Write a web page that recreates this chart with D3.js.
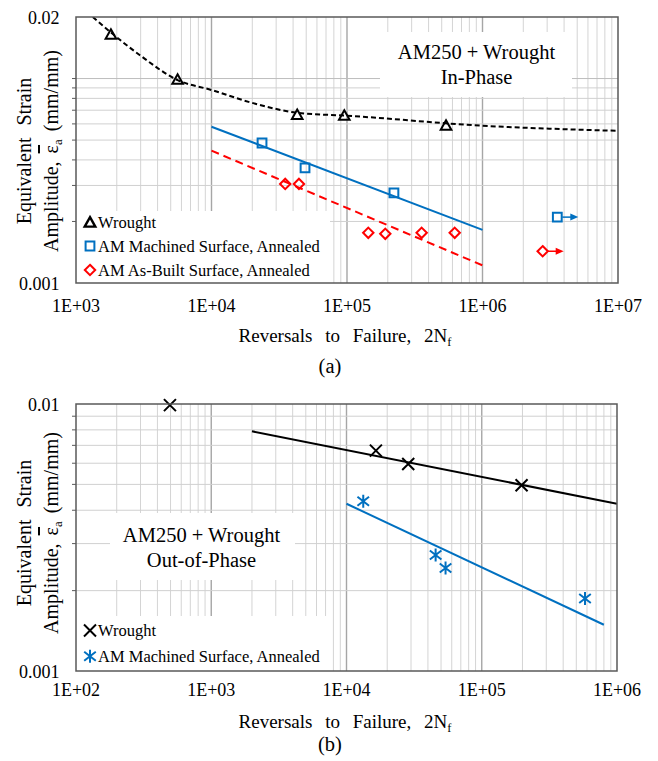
<!DOCTYPE html>
<html><head><meta charset="utf-8">
<script src="https://cdn.jsdelivr.net/npm/d3@7"></script>
<style>
body{margin:0;background:#fff}
svg{display:block}
</style>
</head><body><svg id="c" width="658" height="761"></svg>
<script>
// ---------- Panel (a): In-Phase ----------
const ipXTickLabels = ["1E+03","1E+04","1E+05","1E+06","1E+07"];
const ipXTickValues = [1e3,1e4,1e5,1e6,1e7];
const ipYTickLabels = ["0.001","0.02"];
const ipYTickValues = [0.001,0.02];
const ipWroughtN = [1810,5620,42900,95500,538000];
const ipWroughtE = [0.0165,0.00994,0.00668,0.00663,0.00592];
const ipWroughtFitN = [1330,1810,2965,5625,10000,20600,43000,100000,1000000,10000000];
const ipWroughtFitE = [0.0200,0.0168,0.0130,0.00983,0.00879,0.00756,0.0068,0.00658,0.00588,0.00555];
const ipMachinedN = [23600,49000,222000];
const ipMachinedE = [0.00484,0.00366,0.00276];
const ipMachinedRunoutN = [3565000];
const ipMachinedRunoutE = [0.0021];
const ipMachinedFitN = [1e4,1e6];
const ipMachinedFitE = [0.00581,0.00182];
const ipAsBuiltN = [35000,44200,143600,191700,355600,623700];
const ipAsBuiltE = [0.00305,0.00305,0.00176,0.00174,0.00176,0.00176];
const ipAsBuiltRunoutN = [2780000];
const ipAsBuiltRunoutE = [0.00143];
const ipAsBuiltFitN = [1e4,1e6];
const ipAsBuiltFitE = [0.00444,0.00122];
const ipLegend = ["Wrought","AM Machined Surface, Annealed","AM As-Built Surface, Annealed"];
const ipTitle = ["AM250 + Wrought","In-Phase"];

// ---------- Panel (b): Out-of-Phase ----------
const opXTickLabels = ["1E+02","1E+03","1E+04","1E+05","1E+06"];
const opXTickValues = [1e2,1e3,1e4,1e5,1e6];
const opYTickLabels = ["0.001","0.01"];
const opYTickValues = [0.001,0.01];
const opWroughtN = [495,16500,28600,197000];
const opWroughtE = [0.0099,0.00669,0.00596,0.00496];
const opWroughtFitN = [2000,1e6];
const opWroughtFitE = [0.0079,0.00423];
const opMachinedN = [13300,45600,54000,580000];
const opMachinedE = [0.00432,0.00272,0.00243,0.00187];
const opMachinedFitN = [1e4,8e5];
const opMachinedFitE = [0.00423,0.00149];
const opLegend = ["Wrought","AM Machined Surface, Annealed"];
const opTitle = ["AM250 + Wrought","Out-of-Phase"];

const BLUE = "#0070c0", RED = "#ff0000", BLACK = "#000";
const FONT = "Liberation Serif";
const svg = d3.select("#c");
const zip = (a,b) => a.map((v,i)=>[v,b[i]]);
const txt = (sel) => sel.append("text").attr("font-family",FONT).attr("fill","#000");

const markers = {
  tri: "M0,-4.8L5.3,4.6L-5.3,4.6Z",
  sq: "M-4.4,-4.4H4.4V4.4H-4.4Z",
  dia: "M0,-5.2L5.2,0L0,5.2L-5.2,0Z",
  x: "M-6,-6L6,6M6,-6L-6,6",
  ast: "M0,-6.5V6.5M-5.8,-4.5L5.8,4.5M5.8,-4.5L-5.8,4.5"
};

function minorValues(domain){
  const out=[];
  const lo=Math.floor(Math.log10(domain[0])), hi=Math.ceil(Math.log10(domain[1]));
  for(let d=lo; d<hi; d++){
    for(let k=1;k<=9;k++){
      const v=k*Math.pow(10,d);
      if(v>domain[0]*1.0001 && v<domain[1]*0.9999) out.push({v, major:k===1});
    }
  }
  return out;
}

function panel(cfg){
  const g = svg.append("g");
  const x = d3.scaleLog().domain(cfg.xDomain).range([cfg.x0,cfg.x1]);
  const y = d3.scaleLog().domain(cfg.yDomain).range([cfg.y1,cfg.y0]);
  const id = cfg.id;
  g.append("clipPath").attr("id","clip"+id).append("rect")
    .attr("x",cfg.x0).attr("y",cfg.y0).attr("width",cfg.x1-cfg.x0).attr("height",cfg.y1-cfg.y0);

  // grid
  const grid = g.append("g");
  minorValues(cfg.xDomain).forEach(t=>{
    grid.append("line").attr("x1",x(t.v)).attr("x2",x(t.v)).attr("y1",cfg.y0).attr("y2",cfg.y1)
      .attr("stroke", t.major? "#a6a6a6":"#d4d4d4").attr("stroke-width", t.major?1.4:1);
  });
  minorValues(cfg.yDomain).forEach(t=>{
    grid.append("line").attr("x1",cfg.x0).attr("x2",cfg.x1).attr("y1",y(t.v)).attr("y2",y(t.v))
      .attr("stroke", t.major? "#bdbdbd":"#d0d0d0").attr("stroke-width",1);
    g.append("line").attr("x1",cfg.x0-4).attr("x2",cfg.x0).attr("y1",y(t.v)).attr("y2",y(t.v))
      .attr("stroke","#595959").attr("stroke-width",1);
  });

  // title box
  const tb = cfg.titleBox;
  g.append("rect").attr("x",tb.x).attr("y",tb.y).attr("width",tb.w).attr("height",tb.h).attr("fill","#fff");
  cfg.title.forEach((t,i)=>{
    txt(g).attr("x",tb.cx).attr("y",tb.b0+i*25).attr("text-anchor","middle")
      .attr("font-size",20.5).text(t);
  });
  // legend box
  const lb = cfg.legendBox;
  g.append("rect").attr("x",cfg.x0).attr("y",lb.y).attr("width",lb.w).attr("height",cfg.y1-lb.y).attr("fill","#fff");

  const plot = g.append("g").attr("clip-path","url(#clip"+id+")");

  cfg.series.forEach(s=>{
    if(s.fit){
      const ln = d3.line().x(d=>x(d[0])).y(d=>y(d[1]));
      if(s.curve) ln.curve(d3.curveMonotoneX);
      plot.append("path").datum(s.fit).attr("d", ln)
        .attr("fill","none").attr("stroke",s.color).attr("stroke-width",2)
        .attr("stroke-dasharray", s.dash||null);
    }
  });
  cfg.series.forEach(s=>{
    const pts = g.append("g");
    pts.selectAll("path").data(s.points).join("path")
      .attr("transform",d=>`translate(${x(d[0])},${y(d[1])})`)
      .attr("d",markers[s.marker]).attr("fill","none").attr("stroke",s.color).attr("stroke-width",2);
    if(s.runout){
      s.runout.forEach(d=>{
        const px=x(d[0]), py=y(d[1]);
        pts.append("path").attr("transform",`translate(${px},${py})`)
          .attr("d",markers[s.marker]).attr("fill","none").attr("stroke",s.color).attr("stroke-width",2);
        pts.append("line").attr("x1",px+5).attr("x2",px+14).attr("y1",py).attr("y2",py)
          .attr("stroke",s.color).attr("stroke-width",1.5);
        pts.append("path").attr("d",`M${px+13},${py-3.5}L${px+21},${py}L${px+13},${py+3.5}Z`).attr("fill",s.color);
      });
    }
  });

  // border
  g.append("rect").attr("x",cfg.x0).attr("y",cfg.y0).attr("width",cfg.x1-cfg.x0).attr("height",cfg.y1-cfg.y0)
    .attr("fill","none").attr("stroke","#595959").attr("stroke-width",1.5);

  // legend entries
  cfg.series.forEach((s,i)=>{
    const by = lb.b0 + i*lb.step;
    g.append("path").attr("transform",`translate(90,${by-5.5})`).attr("d",markers[s.marker])
      .attr("fill","none").attr("stroke",s.color).attr("stroke-width",s.marker==="tri"?2.4:2)
      .attr("stroke-linejoin","miter");
    txt(g).attr("x",98).attr("y",by).attr("font-size",16.5).text(cfg.legend[i]);
  });

  // ticks
  cfg.xTickValues.forEach((v,i)=>{
    txt(g).attr("x",x(v)).attr("y",cfg.xTickBase).attr("text-anchor","middle")
      .attr("font-size",18).text(cfg.xTickLabels[i]);
  });
  cfg.yTickValues.forEach((v,i)=>{
    txt(g).attr("x",59.5).attr("y",y(v)+7).attr("text-anchor","end")
      .attr("font-size",18).text(cfg.yTickLabels[i]);
  });
  // x title
  const xt = txt(g).attr("x",345).attr("y",cfg.xTitleBase).attr("text-anchor","middle")
    .attr("font-size",19).attr("word-spacing",8);
  xt.append("tspan").text("Reversals to Failure, 2N");
  xt.append("tspan").attr("font-size",12.5).attr("dy",4).text("f");
  // y title
  const cy = cfg.yTitleCenter;
  txt(g).attr("transform",`translate(31,${cy}) rotate(-90)`).attr("text-anchor","middle")
    .attr("font-size",20).attr("word-spacing",7).text("Equivalent Strain");
  const yt = txt(g).attr("transform",`translate(58,${cy}) rotate(-90)`).attr("text-anchor","middle")
    .attr("font-size",20).attr("word-spacing",3);
  yt.append("tspan").text("Amplitude, ");
  yt.append("tspan").attr("text-decoration","overline").text("\u03B5");
  yt.append("tspan").attr("font-size",13).attr("dy",4).text("a");
  yt.append("tspan").attr("dy",-4).text(" (mm/mm)");
  // panel label
  txt(g).attr("x",330).attr("y",cfg.labelBase).attr("text-anchor","middle")
    .attr("font-size",20.5).text(cfg.label);
}

panel({
  id:"a", x0:76, x1:618, y0:17, y1:283,
  xDomain:[1e3,1e7], yDomain:[0.001,0.02],
  xTickValues:ipXTickValues, xTickLabels:ipXTickLabels,
  yTickValues:ipYTickValues, yTickLabels:ipYTickLabels,
  xTickBase:312, xTitleBase:342, labelBase:373, yTitleCenter:151, label:"(a)",
  title:ipTitle, titleBox:{x:380,y:32,w:192,h:65,cx:476.5,b0:58.5},
  legend:ipLegend, legendBox:{y:211,w:254,b0:227.5,step:24},
  series:[
    {marker:"tri", color:BLACK, points:zip(ipWroughtN,ipWroughtE), fit:zip(ipWroughtFitN,ipWroughtFitE), curve:true, dash:"5,3"},
    {marker:"sq", color:BLUE, points:zip(ipMachinedN,ipMachinedE), runout:zip(ipMachinedRunoutN,ipMachinedRunoutE), fit:zip(ipMachinedFitN,ipMachinedFitE)},
    {marker:"dia", color:RED, points:zip(ipAsBuiltN,ipAsBuiltE), runout:zip(ipAsBuiltRunoutN,ipAsBuiltRunoutE), fit:zip(ipAsBuiltFitN,ipAsBuiltFitE), dash:"8,5"}
  ]
});

panel({
  id:"b", x0:76, x1:617, y0:404, y1:671,
  xDomain:[1e2,1e6], yDomain:[0.001,0.01],
  xTickValues:opXTickValues, xTickLabels:opXTickLabels,
  yTickValues:opYTickValues, yTickLabels:opYTickLabels,
  xTickBase:696, xTitleBase:728, labelBase:751, yTitleCenter:533, label:"(b)",
  title:opTitle, titleBox:{x:110,y:513,w:185,h:67,cx:201.5,b0:541.5},
  legend:opLegend, legendBox:{y:616,w:256,b0:636,step:25.7},
  series:[
    {marker:"x", color:BLACK, points:zip(opWroughtN,opWroughtE), fit:zip(opWroughtFitN,opWroughtFitE)},
    {marker:"ast", color:BLUE, points:zip(opMachinedN,opMachinedE), fit:zip(opMachinedFitN,opMachinedFitE)}
  ]
});
</script>
</body></html>
